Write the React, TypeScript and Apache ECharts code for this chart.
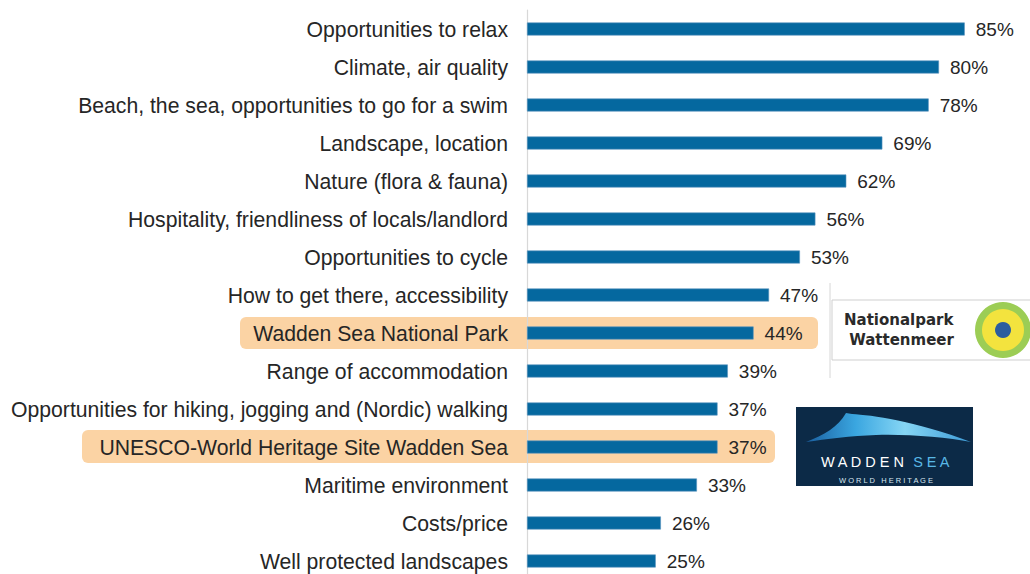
import React, { useEffect, useRef } from "react";
import * as echarts from "echarts";

const categories = [
  "Opportunities to relax",
  "Climate, air quality",
  "Beach, the sea, opportunities to go for a swim",
  "Landscape, location",
  "Nature (flora & fauna)",
  "Hospitality, friendliness of locals/landlord",
  "Opportunities to cycle",
  "How to get there, accessibility",
  "Wadden Sea National Park",
  "Range of accommodation",
  "Opportunities for hiking, jogging and (Nordic) walking",
  "UNESCO-World Heritage Site Wadden Sea",
  "Maritime environment",
  "Costs/price",
  "Well protected landscapes",
];
const values = [85, 80, 78, 69, 62, 56, 53, 47, 44, 39, 37, 37, 33, 26, 25];

const wavePath =
  "M10 35 C28 28 42 20 50 6 L56 7 C75 8 120 14 175 35 C150 30 110 27 80 28 C55 29 30 32 10 35 Z";

let registered = false;

export default function App() {
  const ref = useRef<HTMLDivElement>(null);
  useEffect(() => {
    if (!ref.current) return;
    if (!registered) {
      echarts.graphic.registerShape("logo", echarts.graphic.extendPath(wavePath, {}) as any);
      registered = true;
    }
    const chart = echarts.init(ref.current, null, { renderer: "svg" });
    const font = "'Liberation Sans', Arial, sans-serif";
    chart.setOption({
      animation: false,
      backgroundColor: "#ffffff",
      grid: { left: 527, top: 10, height: 570, width: 463.5 },
      xAxis: { type: "value", min: 0, max: 90, show: false, splitLine: { show: false } },
      yAxis: {
        type: "category",
        inverse: true,
        data: categories,
        axisLine: { show: true, lineStyle: { color: "#d8d8d8", width: 1.2 } },
        axisTick: { show: false },
        axisLabel: { margin: 19, fontSize: 21.2, color: "#262626", fontFamily: font },
      },
      series: [
        {
          type: "bar",
          data: values,
          barWidth: 13,
          z: 3,
          itemStyle: { color: "#05689f", borderColor: "#5b93bd", borderWidth: 0.6 },
          label: {
            show: true,
            position: "right",
            distance: 11,
            formatter: "{c}%",
            fontSize: 19,
            color: "#262626",
            fontFamily: font,
          },
        },
      ],
      graphic: [
        {
          type: "rect",
          z: -10,
          shape: { x: 240, y: 317, width: 578, height: 32, r: 6 },
          style: { fill: "#fbd3a4" },
        },
        {
          type: "rect",
          z: -10,
          shape: { x: 82, y: 430, width: 693, height: 33, r: 6 },
          style: { fill: "#fbd3a4" },
        },
        {
          type: "line",
          shape: { x1: 830, y1: 283, x2: 830, y2: 378 },
          style: { stroke: "#d6d6d6", lineWidth: 1 },
        },
        {
          type: "rect",
          shape: { x: 832, y: 300, width: 205, height: 60 },
          style: { fill: "#ffffff", stroke: "#cfcfcf", lineWidth: 1 },
        },
        {
          type: "text",
          x: 844,
          y: 310,
          style: {
            text: "Nationalpark\n Wattenmeer",
            fontSize: 15,
            fontWeight: "bold",
            fill: "#2a2a2a",
            lineHeight: 20,
            fontFamily: "'DejaVu Sans', sans-serif",
          },
        },
        { type: "circle", shape: { cx: 1003, cy: 330, r: 28 }, style: { fill: "#9ccd55" } },
        { type: "circle", shape: { cx: 1003, cy: 330, r: 21 }, style: { fill: "#f3e33e" } },
        { type: "circle", shape: { cx: 1003, cy: 330, r: 8 }, style: { fill: "#2c5d9f" } },
        {
          type: "rect",
          shape: { x: 796, y: 407, width: 177, height: 79 },
          style: { fill: "#0c2a47" },
        },
        {
          type: "logo",
          x: 796,
          y: 407,
          scaleX: 1,
          scaleY: 1,
          style: {
            fill: {
              type: "linear",
              x: 0,
              y: 0,
              x2: 1,
              y2: 0,
              colorStops: [
                { offset: 0, color: "#1a5fa0" },
                { offset: 0.3, color: "#3aa6e0" },
                { offset: 0.6, color: "#86d6f5" },
                { offset: 1, color: "#3c9ad6" },
              ],
            },
          },
        },
        {
          type: "text",
          x: 885,
          y: 462,
          style: {
            rich: {
              w: { fill: "#ffffff", fontSize: 14.5, fontFamily: font },
              s: { fill: "#59b8e6", fontSize: 14.5, fontFamily: font },
            },
            text: "{w|W A D D E N  }{s|S E A}",
            align: "center",
            verticalAlign: "middle",
          },
        },
        {
          type: "text",
          x: 886,
          y: 480,
          style: {
            text: "W O R L D   H E R I T A G E",
            fill: "#d8e6f0",
            fontSize: 7.5,
            fontFamily: font,
            align: "center",
            verticalAlign: "middle",
          },
        },
      ],
    });
    return () => chart.dispose();
  }, []);
  return (
    <div style={{ position: "absolute", left: 0, top: 0, width: 1030, height: 574, overflow: "hidden" }}>
      <div ref={ref} style={{ width: 1030, height: 590 }} />
    </div>
  );
}
